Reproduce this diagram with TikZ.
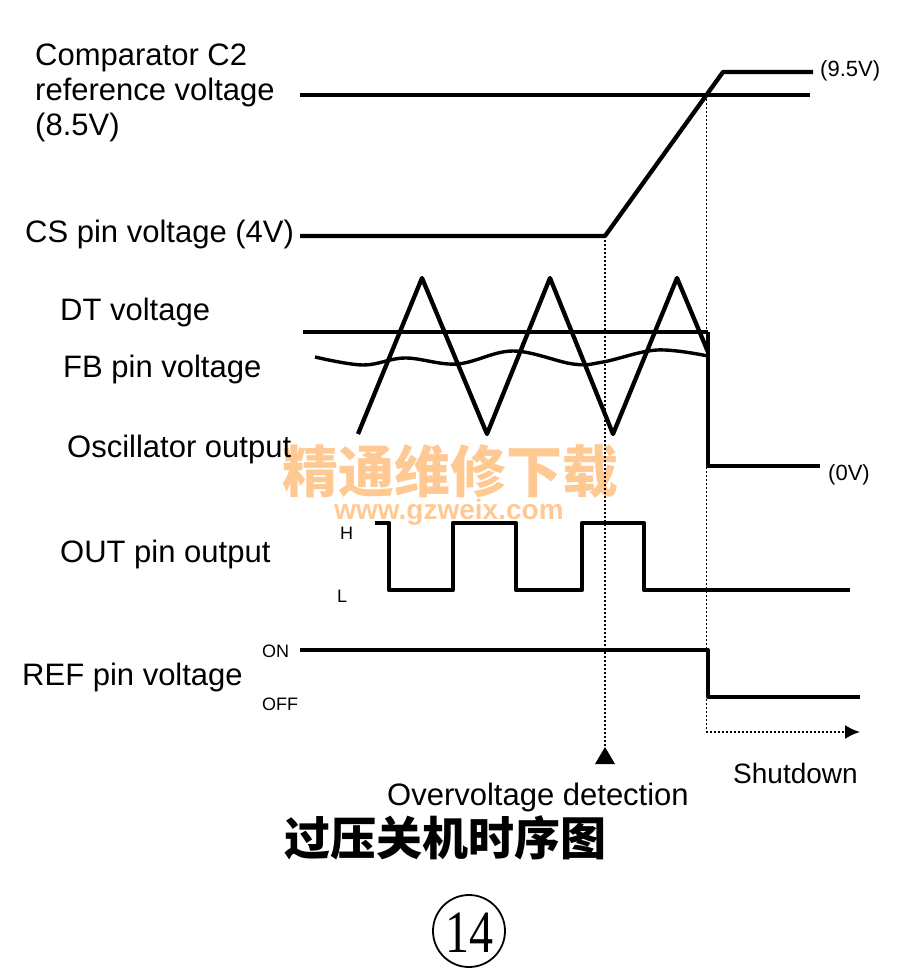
\documentclass[tikz,border=0pt]{standalone}
\usepackage{fontspec}
\setmainfont{Liberation Sans}
\newfontfamily\cjk{Noto Sans CJK SC}
\newfontfamily\numfont{Liberation Serif}
\colorlet{WatermarkText}{orange!42}
\usetikzlibrary{intersections,arrows.meta}

\begin{document}
\begin{tikzpicture}[x=1pt,y=-1pt,
  Wave/.style={line width=4.3pt,line join=round},
  Level/.style={line width=3.4pt,line join=round},
  Guide/.style={line width=1.8pt,dash pattern=on 1.5pt off 2.5pt},
  Label/.style={anchor=base west,inner sep=0pt,font=\fontsize{31}{35}\selectfont},
  Small/.style={anchor=base west,inner sep=0pt,font=\fontsize{18}{20}\selectfont}]

\useasboundingbox (0,0) rectangle (901,977);

% Marca de agua
\node[text=WatermarkText,inner sep=0pt,font=\cjk\bfseries\fontsize{56}{56}\selectfont] (wmA) at (450,471) {精通维修下载};
\node[text=WatermarkText,inner sep=0pt,font=\bfseries\fontsize{28}{28}\selectfont] (wmB) at (449,512) {www.gzweix.com};

\coordinate (R0) at (300,95);
\coordinate (R1) at (810,95);
\coordinate (C0) at (300,236);
\coordinate (C1) at (605,236);
\coordinate (C2) at (723,72);
\coordinate (C3) at (813,72);
\coordinate (T) at (605,747);
\coordinate (Arr) at (860,732);

\path[name path=RefLine] (R0) -- (R1);
\path[name path=Ramp] (C1) -- (C2);
\path [name intersections={of=RefLine and Ramp, by=X}];

% Lineas de guia
\draw[Guide] (C1) -- (T);
\draw[Guide] (X) -- (X |- Arr);
\draw[Guide,-{Latex[length=15pt,width=14pt]}] (X |- Arr) -- (Arr);
\fill (T) -- ++(-10,17) -- ++(20,0) -- cycle;

% Formas de onda
\draw[Level] (R0) -- (R1);
\draw[Wave] (C0) -- (C1) -- (C2) -- (C3);

\draw[Level] (303,332) -- (708,332);
\draw[Level] plot[smooth,tension=0.6] coordinates {(315,357) (363,365) (405,358) (457,364) (513,351) (573,364) (603,362) (657,350) (708,356)};
\draw[Wave] (358,434) -- (422,278) -- (487,434) -- (550,278) -- (613,434) -- (677,278) -- (708,352);
\draw[Wave] (708,332) -- (708,466) -- (820,466);

\draw[Wave] (375,523) -| (389,590) -| (453,523) -| (516,590) -| (582,523) -| (644,590) -- (850,590);

\draw[Level] (300,650) -| (708,697) -- (860,697);

% Etiquetas
\node[Label,anchor=north west,align=left] (cmp) at (35,44) {Comparator C2\\reference voltage\\(8.5V)};
\node[Label] (cs) at (25,242) {CS pin voltage (4V)};
\node[Label] (dt) at (60,320) {DT voltage};
\node[Label] (fb) at (63,377) {FB pin voltage};
\node[Label] (osc) at (67,457) {Oscillator output};
\node[Label] (out) at (60,562) {OUT pin output};
\node[Label] (ref) at (22,685) {REF pin voltage};

\node[Small] (hi) at (340,539) {H};
\node[Small] (lo) at (337,602) {L};
\node[Small] (on) at (262,657) {ON};
\node[Small] (off) at (262,710) {OFF};

\node[Label,font=\fontsize{22}{24}\selectfont] (top) at (820,76) {(9.5V)};
\node[Label,font=\fontsize{22}{24}\selectfont] (zero) at (828,480) {(0V)};
\node[Label,font=\fontsize{28}{30}\selectfont] (shut) at (733,783) {Shutdown};
\node[Label,font=\fontsize{31}{33}\selectfont] (ovd) at (387,805) {Overvoltage detection};

\node[font=\cjk\bfseries\fontsize{46}{46}\selectfont] (title) at (445,838) {过压关机时序图};

\draw[line width=1.8pt] (469,931) circle[radius=36];
\node[font=\numfont\fontsize{60}{60}\selectfont] (num) at (469,933) {\scalebox{0.8}[1]{14}};

\end{tikzpicture}
\end{document}
